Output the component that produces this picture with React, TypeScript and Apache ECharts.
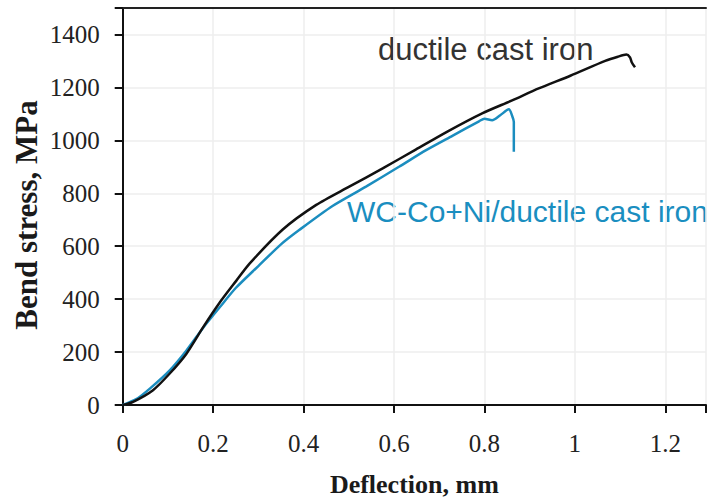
import React, { useEffect, useRef } from "react";
import * as echarts from "echarts";

const ironX = [0, 0.023, 0.067, 0.104, 0.141, 0.178, 0.215, 0.251, 0.281, 0.354, 0.428, 0.501, 0.575, 0.648, 0.72, 0.795, 0.86, 0.92, 0.99, 1.067, 1.095, 1.114, 1.122, 1.126, 1.133];
const ironY = [0, 12, 56, 119, 194, 294, 388, 469, 535, 663, 756, 825, 894, 965, 1035, 1102, 1150, 1196, 1244, 1300, 1316, 1324, 1313, 1294, 1276];

const coatX = [0, 0.03, 0.06, 0.104, 0.141, 0.178, 0.215, 0.25, 0.3, 0.35, 0.391, 0.464, 0.538, 0.611, 0.67, 0.73, 0.788, 0.8, 0.817, 0.835, 0.854, 0.861, 0.865, 0.865];
const coatY = [0, 22, 62, 131, 206, 292, 370, 442, 525, 607, 662, 752, 825, 900, 962, 1018, 1072, 1082, 1076, 1095, 1117, 1094, 1069, 957];

const xTicks = [0, 0.2, 0.4, 0.6, 0.8, 1, 1.2];
const yTicks = [0, 200, 400, 600, 800, 1000, 1200, 1400];

const ironName = "ductile cast iron";
const coatName = "WC-Co+Ni/ductile cast iron";
const xTitle = "Deflection, mm";
const yTitle = "Bend stress, MPa";

export default function App() {
  const ref = useRef<HTMLDivElement>(null);
  useEffect(() => {
    if (!ref.current) return;
    const chart = echarts.init(ref.current, undefined, { renderer: "svg" });
    const serif = "'Liberation Serif', 'Times New Roman', serif";
    const sans = "'Liberation Sans', Arial, sans-serif";
    const fmtX = (v: number) => (xTicks.some((t) => Math.abs(t - v) < 1e-6) ? String(v) : "");
    const fmtY = (v: number) => (yTicks.some((t) => Math.abs(t - v) < 1e-6) ? String(v) : "");
    chart.setOption({
      animation: false,
      backgroundColor: "#ffffff",
      grid: { left: 122.7, right: 1, top: 8, bottom: 93.7, containLabel: false },
      xAxis: [
        {
          type: "value",
          min: 0,
          max: 1.29,
          interval: 0.2,
          name: xTitle,
          nameLocation: "middle",
          nameGap: 66,
          nameTextStyle: { fontFamily: serif, fontWeight: "bold", fontSize: 26, color: "#1a1a1a" },
          axisLine: { show: true, lineStyle: { color: "#111", width: 2 } },
          axisTick: { show: true, inside: false, length: 8, lineStyle: { color: "#111", width: 2 } },
          axisLabel: { formatter: fmtX, margin: 26, fontFamily: serif, fontSize: 25, color: "#222" },
          splitLine: { show: true, lineStyle: { color: "#eeeeee", width: 1.5 } },
        },
        {
          type: "value",
          position: "top",
          min: 0,
          max: 1.29,
          axisLine: { show: true, lineStyle: { color: "#222", width: 2 } },
          axisTick: { show: false },
          axisLabel: { show: false },
          splitLine: { show: false },
        },
      ],
      yAxis: {
        type: "value",
        min: 0,
        max: 1500,
        interval: 200,
        axisLine: { show: true, lineStyle: { color: "#111", width: 2 } },
        axisTick: { show: true, inside: false, length: 8, lineStyle: { color: "#111", width: 2 } },
        axisLabel: { formatter: fmtY, margin: 23, fontFamily: serif, fontSize: 25, color: "#222" },
        splitLine: { show: true, lineStyle: { color: "#eeeeee", width: 1.5 } },
      },
      series: [
        {
          name: ironName,
          type: "line",
          data: ironX.map((x, i) => [x, ironY[i]]),
          showSymbol: false,
          smooth: 0.25,
          lineStyle: { color: "#111111", width: 2.5 },
          z: 3,
        },
        {
          name: coatName,
          type: "line",
          data: coatX.map((x, i) => [x, coatY[i]]),
          showSymbol: false,
          smooth: 0.25,
          lineStyle: { color: "#1b8dbf", width: 2.5 },
          z: 2,
        },
      ],
      graphic: [
        {
          type: "text",
          x: 26,
          y: 215,
          rotation: Math.PI / 2,
          style: {
            text: yTitle,
            font: "bold 31px " + serif,
            fill: "#1a1a1a",
            align: "center",
            verticalAlign: "middle",
          },
        },
        {
          type: "text",
          left: 378,
          top: 34,
          style: { text: ironName, font: "31px " + sans, fill: "#333333" },
        },
        {
          type: "text",
          left: 347,
          top: 196,
          style: { text: coatName, font: "30px " + sans, fill: "#1a8ec0" },
        },
      ],
    });
    return () => chart.dispose();
  }, []);
  return <div ref={ref} style={{ position: "fixed", left: 0, top: 0, width: 709, height: 502 }} />;
}
